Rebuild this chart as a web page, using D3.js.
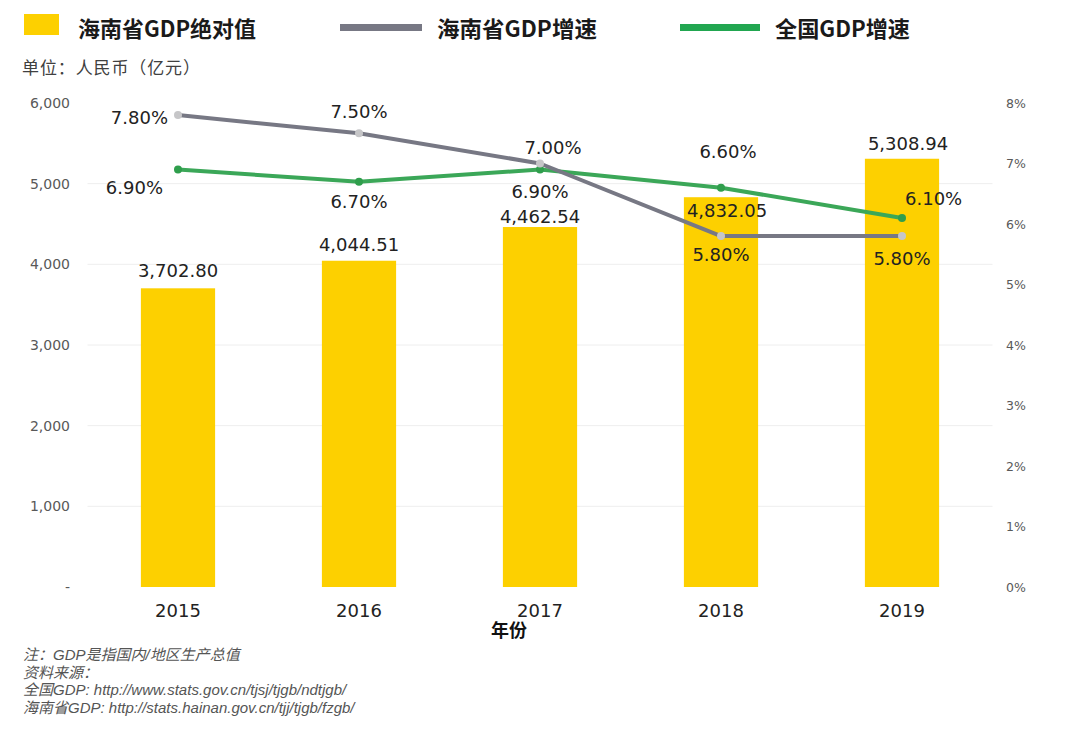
<!DOCTYPE html>
<html><head><meta charset="utf-8">
<script src="https://cdn.jsdelivr.net/npm/d3@7"></script>
<style>
html,body{margin:0;padding:0;background:#fff;}
svg{display:block;}
</style></head>
<body>
<svg id="chart" width="1069" height="730"></svg>
<script>
// ---- data ----
const years = ["2015", "2016", "2017", "2018", "2019"];
const hainanGDP = [3702.80, 4044.51, 4462.54, 4832.05, 5308.94];
const hainanGrowth = [7.8, 7.5, 7.0, 5.8, 5.8];
const nationalGrowth = [6.9, 6.7, 6.9, 6.6, 6.1];
const leftTicks = [0, 1000, 2000, 3000, 4000, 5000, 6000];
const rightTicks = [0, 1, 2, 3, 4, 5, 6, 7, 8];
const legendLabels = ["海南省GDP绝对值", "海南省GDP增速", "全国GDP增速"];
const unitLabel = "单位：人民币（亿元）";
const xTitle = "年份";
const notes = ["注：GDP是指国内/地区生产总值", "资料来源：", "全国GDP: http://www.stats.gov.cn/tjsj/tjgb/ndtjgb/", "海南省GDP: http://stats.hainan.gov.cn/tjj/tjgb/fzgb/"];

// label placement (style only)
const barLabelPos = [[0,-11],[0,-10],[0,-4],[6,20],[6,-9]];
const grayLabelPos = [[-10,9,"end"],[0,-15,"middle"],[13,-10,"middle"],[0,25,"middle"],[0,29,"middle"]];
const greenLabelPos = [[-15,24,"end"],[0,26,"middle"],[0,28,"middle"],[7,-30,"middle"],[3,-13,"start"]];

const svg = d3.select("#chart");
const plotTop = 103, plotBottom = 587, plotLeft = 87.5, plotRight = 992.5;
const numFont = "'DejaVu Sans', Verdana, sans-serif";
const cjkFont = "'Noto Sans CJK SC', 'Noto Sans', sans-serif";
const noteFont = "'Liberation Sans', 'Noto Sans CJK SC', sans-serif";

const x = d3.scaleBand().domain(years).range([plotLeft, plotRight]).paddingInner(0.59).paddingOuter(0.295);
const yL = d3.scaleLinear().domain([0, 6000]).range([plotBottom, plotTop]);
const yR = d3.scaleLinear().domain([0, 8]).range([plotBottom, plotTop]);
const cx = d => x(d) + x.bandwidth() / 2;

// gridlines
svg.append("g").selectAll("line").data(leftTicks.filter(t => t > 0 && t < 6000)).join("line")
  .attr("x1", plotLeft).attr("x2", plotRight).attr("y1", d => yL(d)).attr("y2", d => yL(d))
  .attr("stroke", "#eeeeee").attr("stroke-width", 1);

// left axis
const axL = svg.append("g").attr("transform", "translate(72,0)")
  .call(d3.axisLeft(yL).tickValues(leftTicks).tickSize(0).tickPadding(2)
    .tickFormat(d => d === 0 ? "-" : d3.format(",")(d)));
axL.select(".domain").remove();
axL.selectAll("text").attr("fill", "#595959").style("font-family", numFont).style("font-size", "14px");

// right axis
const axR = svg.append("g").attr("transform", "translate(1004,0)")
  .call(d3.axisRight(yR).tickValues(rightTicks).tickSize(0).tickPadding(2).tickFormat(d => d + "%"));
axR.select(".domain").remove();
axR.selectAll("text").attr("fill", "#595959").style("font-family", numFont).style("font-size", "12.5px");

// bars
svg.append("g").selectAll("rect").data(hainanGDP).join("rect")
  .attr("x", (d, i) => x(years[i])).attr("width", x.bandwidth())
  .attr("y", d => yL(d)).attr("height", d => plotBottom - yL(d))
  .attr("fill", "#FDD000");

// x axis labels
const axX = svg.append("g").attr("transform", `translate(0,${plotBottom})`)
  .call(d3.axisBottom(x).tickSize(0).tickPadding(17));
axX.select(".domain").remove();
axX.selectAll("text").attr("fill", "#222").style("font-family", numFont).style("font-size", "18px");

svg.append("text").attr("x", 509).attr("y", 637).attr("text-anchor", "middle")
  .style("font-family", cjkFont).style("font-size", "18px").style("font-weight", "bold").attr("fill", "#111")
  .text(xTitle);

// lines
function drawLine(vals, color, ptColor) {
  const line = d3.line().x((d, i) => cx(years[i])).y(d => yR(d));
  svg.append("path").datum(vals).attr("d", line).attr("fill", "none")
    .attr("stroke", color).attr("stroke-width", 4).attr("stroke-linejoin", "round");
  svg.append("g").selectAll("circle").data(vals).join("circle")
    .attr("cx", (d, i) => cx(years[i])).attr("cy", d => yR(d)).attr("r", 4).attr("fill", ptColor);
}
drawLine(nationalGrowth, "#3BA758", "#2F9E4C");
drawLine(hainanGrowth, "#777884", "#C6C6C8");

// data labels
const lbl = (sel) => sel.style("font-family", numFont).style("font-size", "18px").attr("fill", "#222");
svg.append("g").selectAll("text").data(hainanGDP).join("text")
  .attr("x", (d, i) => cx(years[i]) + barLabelPos[i][0]).attr("y", (d, i) => yL(d) + barLabelPos[i][1])
  .attr("text-anchor", "middle").text(d => d3.format(",.2f")(d)).call(lbl);
svg.append("g").selectAll("text").data(hainanGrowth).join("text")
  .attr("x", (d, i) => cx(years[i]) + grayLabelPos[i][0]).attr("y", (d, i) => yR(d) + grayLabelPos[i][1])
  .attr("text-anchor", (d, i) => grayLabelPos[i][2]).text(d => d.toFixed(2) + "%").call(lbl);
svg.append("g").selectAll("text").data(nationalGrowth).join("text")
  .attr("x", (d, i) => cx(years[i]) + greenLabelPos[i][0]).attr("y", (d, i) => yR(d) + greenLabelPos[i][1])
  .attr("text-anchor", (d, i) => greenLabelPos[i][2]).text(d => d.toFixed(2) + "%").call(lbl);

// legend
svg.append("rect").attr("x", 24).attr("y", 14).attr("width", 35).attr("height", 21).attr("fill", "#FDD000");
svg.append("rect").attr("x", 340).attr("y", 24).attr("width", 82).attr("height", 7).attr("fill", "#777884");
svg.append("rect").attr("x", 680).attr("y", 24).attr("width", 80).attr("height", 7).attr("fill", "#21A650");
const legX = [78, 437, 775], legW = [178, 160, 135];
svg.append("g").selectAll("text").data(legendLabels).join("text")
  .attr("x", (d, i) => legX[i]).attr("y", 37)
  .attr("textLength", (d, i) => legW[i]).attr("lengthAdjust", "spacingAndGlyphs")
  .style("font-family", cjkFont).style("font-size", "22px").style("font-weight", "bold").attr("fill", "#1a1a1a")
  .text(d => d);

svg.append("text").attr("x", 22).attr("y", 74).attr("textLength", 178)
  .style("font-family", cjkFont).style("font-size", "17px").attr("fill", "#404040").text(unitLabel);

// notes
svg.append("g").selectAll("text").data(notes).join("text")
  .attr("x", 23).attr("y", (d, i) => 660 + i * 17.5)
  .style("font-family", noteFont).style("font-size", "15px").style("font-style", "italic").attr("fill", "#555")
  .text(d => d);
</script>
</body></html>
